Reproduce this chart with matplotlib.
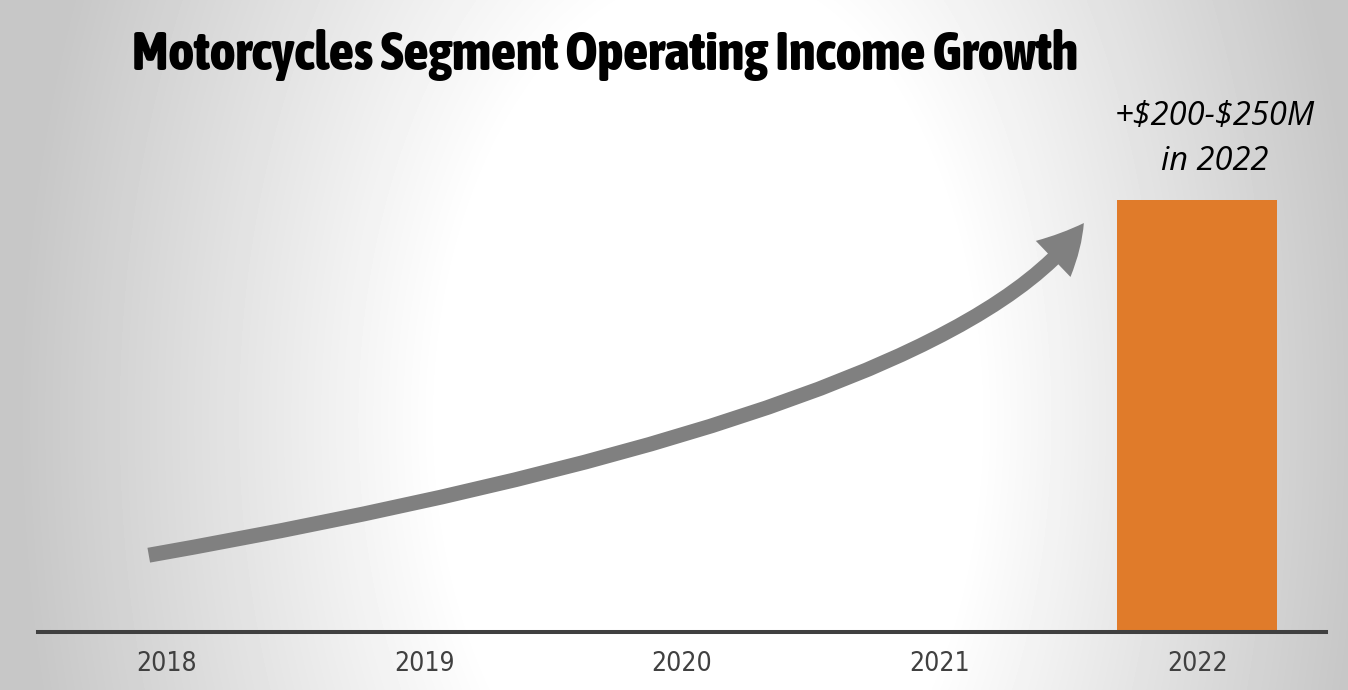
import numpy as np
import matplotlib
matplotlib.use("Agg")
import matplotlib.pyplot as plt
import matplotlib.font_manager as fm
from matplotlib.patches import FancyArrowPatch

# datos
years = ["2018", "2019", "2020", "2021", "2022"]
income_2022 = 225          # punto medio de +$200-$250M
bar_year_idx = 4
trend_start = (-0.07, 40)  # flecha de tendencia (coordenadas de datos)
trend_end = (3.56, 213)
title = "Motorcycles Segment Operating Income Growth"
note = "+\\$200-\\$250M\nin 2022"


def fuente_estrecha(bold):
    # busca una fuente condensada / narrow instalada
    mejor, clave = None, None
    for f in fm.fontManager.ttflist:
        n = f.name.lower()
        st = fm.stretch_dict.get(f.stretch, 500) if isinstance(f.stretch, str) else f.stretch
        if "condensed" in n or "narrow" in n:
            st = min(st, 300)
        if st >= 500 or f.style != "normal":
            continue
        w = fm.weight_dict.get(f.weight, 400) if isinstance(f.weight, str) else f.weight
        k = (abs(w - (800 if bold else 400)), st)
        if clave is None or k < clave:
            mejor, clave = f, k
    if mejor is None:
        return fm.FontProperties(family="DejaVu Sans", weight="bold" if bold else "normal")
    return fm.FontProperties(fname=mejor.fname)


W, H = 1348, 690
fig = plt.figure(figsize=(W / 100, H / 100), dpi=100)

# fondo degradado gris-blanco-gris
bg = fig.add_axes([0, 0, 1, 1], zorder=0)
xx, yy = np.meshgrid(np.arange(W), np.arange(H))
rx = np.where(xx < 720, 700.0, 640.0)
r = np.sqrt(((xx - 720) / rx) ** 2 + ((yy - 420) / 1100.0) ** 2)
val = 1 - 0.22 * np.clip((r - 0.4) / 0.6, 0, 1)
bg.imshow(val, cmap="gray", vmin=0, vmax=1, aspect="auto", interpolation="bilinear")
bg.axis("off")

ax = fig.add_axes([38 / W, 58 / H, 1288 / W, 632 / H], zorder=1)
ax.patch.set_alpha(0)
x = np.arange(len(years))
ax.bar([bar_year_idx], [income_2022], width=0.62, color="#E07B2A", zorder=2)
ax.set_xlim(-0.5, len(years) - 0.5)
ax.set_ylim(0, income_2022 * 632 / 432)

for s in ["top", "left", "right"]:
    ax.spines[s].set_visible(False)
ax.spines["bottom"].set_color("#404040")
ax.spines["bottom"].set_linewidth(2.9)
ax.set_yticks([])
ax.set_xticks(x)
fp_tick = fuente_estrecha(False)
fp_tick.set_size(19)
ax.set_xticklabels(years, fontproperties=fp_tick, color="#404040")
ax.tick_params(axis="x", length=0, pad=14)

# flecha de crecimiento
arrow = FancyArrowPatch(trend_start, trend_end,
                        connectionstyle="angle3,angleA=10,angleB=56",
                        arrowstyle="simple,head_width=36,head_length=34,tail_width=10.8",
                        mutation_scale=1, color="#808080", lw=0, zorder=3,
                        shrinkA=0, shrinkB=0)
ax.add_patch(arrow)

fp_title = fuente_estrecha(True)
fp_title.set_size(40)
t = fig.text(605 / W, 1 - 55 / H, title, ha="center", va="center",
             fontproperties=fp_title, color="black")
# ajustar el tamaño para que el título ocupe ~945 px
ren = fig.canvas.get_renderer()
ancho = t.get_window_extent(ren).width
if ancho > 945:
    fp_title.set_size(40 * 945 / ancho)
    t.set_fontproperties(fp_title)

fig.text(1215 / W, 1 - 139 / H, note, ha="center", va="center", fontsize=23.5,
         style="italic", family=["Open Sans", "Noto Sans", "DejaVu Sans"],
         color="black", linespacing=1.45)

fig.savefig("out.png", dpi=100)
